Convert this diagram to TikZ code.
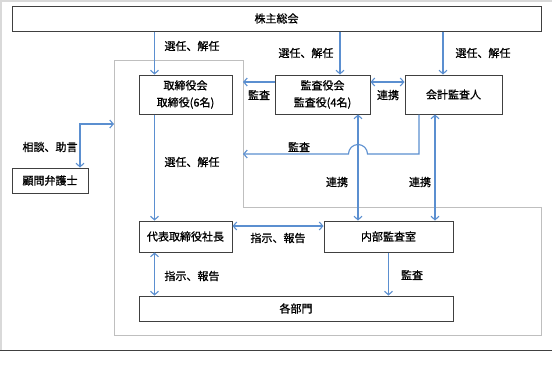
\documentclass[tikz,border=0pt]{standalone}
\usepackage{fontspec}
\setmainfont{Noto Sans CJK JP}
\newfontfamily\medfont{Noto Sans CJK JP}[FakeBold=1]
\usetikzlibrary{arrows.meta}
\definecolor{arrblue}{RGB}{91,143,208}
\definecolor{boxline}{RGB}{64,64,64}
\definecolor{framegrey}{RGB}{191,191,191}
\definecolor{edgegrey}{RGB}{217,217,217}
\tikzset{
  box/.style={draw=boxline, line width=1pt, inner sep=0pt, align=center, font=\medfont\fontsize{11}{17}\selectfont},
  arr/.style={draw=arrblue, line width=1.1pt, -{Straight Barb[length=3.5pt,width=8pt]}},
  darr/.style={draw=arrblue, line width=1.1pt, {Straight Barb[length=3.5pt,width=8pt]}-{Straight Barb[length=3.5pt,width=8pt]}},
  lbl/.style={inner sep=0pt, font=\medfont\fontsize{11}{13}\selectfont}
}
\begin{document}
\begin{tikzpicture}[x=1pt,y=-1pt]
\useasboundingbox[fill=white] (0,0) rectangle (552,376);
% page edges
\draw[edgegrey, line width=1.5pt] (0,1) -- (552,1);
\draw[edgegrey, line width=1.5pt] (1,0) -- (1,350);
\draw[boxline, line width=1pt] (0,350) -- (552,350);
% company frame
\draw[framegrey, line width=1pt] (114,60) -- (243,60) -- (243,207) -- (541,207) -- (541,335) -- (114,335) -- cycle;
\coordinate (frR1) at (243,82);
\coordinate (frR2) at (243,154);
\coordinate (frL) at (114,124);
% boxes
\node[box, minimum width=529pt, minimum height=25pt] (gm) at (276.5,18.5) {株主総会};
\node[box, minimum width=93pt, minimum height=39pt] (tb) at (185.5,94.5) {取締役会\\取締役(6名)};
\node[box, minimum width=95pt, minimum height=39pt] (ka) at (322.5,94.5) {監査役会\\監査役(4名)};
\node[box, minimum width=97pt, minimum height=39pt] (kk) at (453.5,94.5) {会計監査人};
\node[box, minimum width=76pt, minimum height=25pt] (ko) at (50,180.5) {顧問弁護士};
\node[box, minimum width=93pt, minimum height=31pt] (dp) at (185.5,236.5) {代表取締役社長};
\node[box, minimum width=129pt, minimum height=31pt] (nb) at (388.5,236.5) {内部監査室};
\node[box, minimum width=314pt, minimum height=25pt] (bm) at (296,308.5) {各部門};
% helper coordinates
\coordinate (c1) at ([xshift=16pt]tb.north west);
\coordinate (c2) at ([xshift=17.5pt]ka.north);
\coordinate (c3) at ([xshift=-10.5pt]kk.north);
\coordinate (c4) at ([xshift=16pt]tb.south west);
\coordinate (c5) at ([xshift=16pt]dp.south west);
\coordinate (c6) at ([xshift=35.5pt]ka.south);
\coordinate (c7) at ([xshift=-18.5pt]kk.south);
\coordinate (c8) at ([xshift=-34.5pt]kk.south);
\coordinate (c9) at ([xshift=30pt]ko.north);
% connectors
\draw[arr] (gm.south -| c1) -- (c1);
\draw[arr] (gm.south -| c2) -- (c2);
\draw[arr] (gm.south -| c3) -- (c3);
\draw[arr] ([yshift=12.5pt]ka.west) -- (frR1);
\draw[darr] ([yshift=12.5pt]ka.east) -- ([yshift=12.5pt]kk.west);
\draw[arr] (c8) -- (c8 |- frR2) -- (367.5,154) arc[start angle=0, end angle=180, radius=9.5pt] -- (frR2);
\draw[darr] (c6) -- (c6 |- nb.north);
\draw[darr] (c7) -- (c7 |- nb.north);
\draw[arr] (c4) -- (c4 |- dp.north);
\draw[darr] (c9) -- (c9 |- frL) -- (frL);
\draw[darr] ([yshift=10.5pt]nb.west) -- ([yshift=10.5pt]dp.east);
\draw[darr] (c5) -- (c5 |- bm.north);
\draw[arr] (nb.south) -- (nb.south |- bm.north);
% labels
\node[lbl] (l1) at (192,46) {選任、解任};
\node[lbl] (l2) at (306,53) {選任、解任};
\node[lbl] (l3) at (483,53) {選任、解任};
\node[lbl] (l4) at (259,95) {監査};
\node[lbl] (l5) at (388,95) {連携};
\node[lbl] (l6) at (299,147) {監査};
\node[lbl] (l7) at (337,182) {連携};
\node[lbl] (l8) at (420,182) {連携};
\node[lbl] (l9) at (192,162) {選任、解任};
\node[lbl] (l10) at (50,147) {相談、助言};
\node[lbl] (l11) at (278,238) {指示、報告};
\node[lbl] (l12) at (192,276) {指示、報告};
\node[lbl] (l13) at (412,275) {監査};
\end{tikzpicture}
\end{document}
